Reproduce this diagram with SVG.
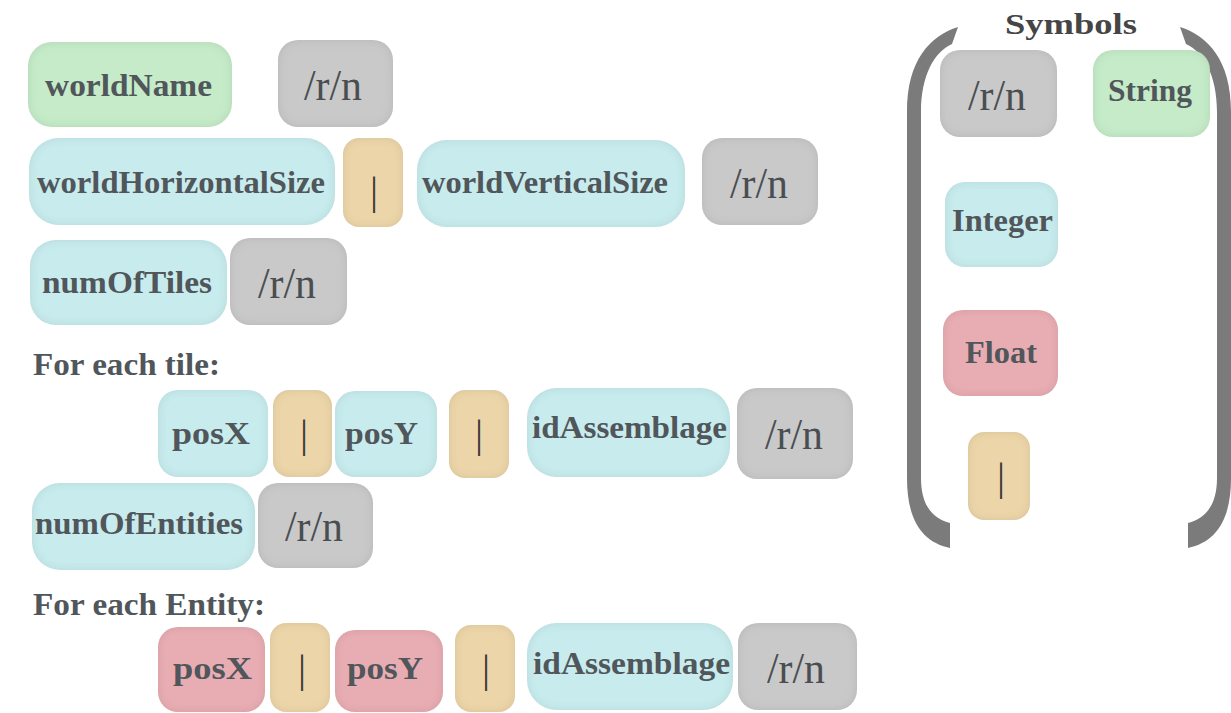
<svg xmlns="http://www.w3.org/2000/svg" width="1231" height="713" viewBox="0 0 1231 713">
  <defs>
    <!-- soft inner shading along the edges of every token box -->
    <filter id="inset" x="-5%" y="-5%" width="110%" height="110%">
      <feGaussianBlur in="SourceAlpha" stdDeviation="5" result="blur"/>
      <feComposite in="SourceAlpha" in2="blur" operator="out" result="rim"/>
      <feFlood flood-color="#000000" flood-opacity="0.2"/>
      <feComposite in2="rim" operator="in" result="shade"/>
      <feMerge>
        <feMergeNode in="SourceGraphic"/>
        <feMergeNode in="shade"/>
      </feMerge>
    </filter>
    <style>
      .box { filter: url(#inset); }
      .nl  { fill: #c9c9c9; }
      .str { fill: #c5ebc8; }
      .int { fill: #c8ecee; }
      .flt { fill: #e8adb3; }
      .sep { fill: #ecd5a9; }
      .lbl { font-family: "Liberation Serif", "Times New Roman", serif; font-size: 32px; font-weight: bold; fill: #50565a; }
      .crlf { font-family: "Liberation Serif", "Times New Roman", serif; font-size: 44px; fill: #4a4e51; text-anchor: middle; }
      .bar { font-family: "Liberation Serif", "Times New Roman", serif; font-size: 40px; fill: #3a3a3a; text-anchor: middle; }
      .bracket { fill: #7b7b7b; }
    </style>
  </defs>

  <rect width="1231" height="713" fill="#ffffff"/>

  <!-- line 1: world name -->
  <g id="worldName">
    <rect class="box str" x="28" y="42" width="204" height="85" rx="24"/>
    <text class="lbl" x="45" y="96" textLength="167" lengthAdjust="spacingAndGlyphs">worldName</text>
  </g>
  <g id="nl1">
    <rect class="box nl" x="278" y="40" width="115" height="87" rx="20"/>
    <text class="crlf" x="333" y="100" textLength="58" lengthAdjust="spacingAndGlyphs">/r/n</text>
  </g>

  <!-- line 2: world size -->
  <g id="worldHorizontalSize">
    <rect class="box int" x="29" y="138" width="306" height="87" rx="30"/>
    <text class="lbl" x="37" y="193" textLength="288" lengthAdjust="spacingAndGlyphs">worldHorizontalSize</text>
  </g>
  <g id="sep1">
    <rect class="box sep" x="343" y="138" width="60" height="89" rx="16"/>
    <text class="bar" x="374" y="204">|</text>
  </g>
  <g id="worldVerticalSize">
    <rect class="box int" x="417" y="140" width="268" height="87" rx="30"/>
    <text class="lbl" x="422" y="193" textLength="246" lengthAdjust="spacingAndGlyphs">worldVerticalSize</text>
  </g>
  <g id="nl2">
    <rect class="box nl" x="702" y="138" width="116" height="87" rx="20"/>
    <text class="crlf" x="759" y="198" textLength="58" lengthAdjust="spacingAndGlyphs">/r/n</text>
  </g>

  <!-- line 3: tile count -->
  <g id="numOfTiles">
    <rect class="box int" x="30" y="240" width="197" height="85" rx="26"/>
    <text class="lbl" x="42" y="293" textLength="170" lengthAdjust="spacingAndGlyphs">numOfTiles</text>
  </g>
  <g id="nl3">
    <rect class="box nl" x="230" y="238" width="117" height="87" rx="20"/>
    <text class="crlf" x="287" y="298" textLength="58" lengthAdjust="spacingAndGlyphs">/r/n</text>
  </g>

  <text id="tileHeading" class="lbl" x="33" y="375" textLength="187" lengthAdjust="spacingAndGlyphs">For each tile:</text>

  <!-- per tile record -->
  <g id="tilePosX">
    <rect class="box int" x="158" y="390" width="110" height="87" rx="20"/>
    <text class="lbl" x="172" y="444" textLength="78" lengthAdjust="spacingAndGlyphs">posX</text>
  </g>
  <g id="sep2">
    <rect class="box sep" x="273" y="390" width="59" height="87" rx="16"/>
    <text class="bar" x="304" y="447">|</text>
  </g>
  <g id="tilePosY">
    <rect class="box int" x="335" y="391" width="102" height="86" rx="20"/>
    <text class="lbl" x="345" y="444" textLength="73" lengthAdjust="spacingAndGlyphs">posY</text>
  </g>
  <g id="sep3">
    <rect class="box sep" x="449" y="390" width="60" height="88" rx="16"/>
    <text class="bar" x="479" y="447">|</text>
  </g>
  <g id="tileIdAssemblage">
    <rect class="box int" x="527" y="388" width="203" height="89" rx="30"/>
    <text class="lbl" x="532" y="438" textLength="195" lengthAdjust="spacingAndGlyphs">idAssemblage</text>
  </g>
  <g id="nl4">
    <rect class="box nl" x="737" y="388" width="116" height="91" rx="20"/>
    <text class="crlf" x="794" y="449" textLength="58" lengthAdjust="spacingAndGlyphs">/r/n</text>
  </g>

  <!-- entity count -->
  <g id="numOfEntities">
    <rect class="box int" x="32" y="483" width="223" height="87" rx="28"/>
    <text class="lbl" x="35" y="534" textLength="208" lengthAdjust="spacingAndGlyphs">numOfEntities</text>
  </g>
  <g id="nl5">
    <rect class="box nl" x="258" y="483" width="115" height="85" rx="20"/>
    <text class="crlf" x="314" y="541" textLength="58" lengthAdjust="spacingAndGlyphs">/r/n</text>
  </g>

  <text id="entityHeading" class="lbl" x="33" y="615" textLength="232" lengthAdjust="spacingAndGlyphs">For each Entity:</text>

  <!-- per entity record -->
  <g id="entityPosX">
    <rect class="box flt" x="158" y="627" width="107" height="85" rx="20"/>
    <text class="lbl" x="173" y="679" textLength="79" lengthAdjust="spacingAndGlyphs">posX</text>
  </g>
  <g id="sep4">
    <rect class="box sep" x="270" y="623" width="60" height="89" rx="16"/>
    <text class="bar" x="302" y="682">|</text>
  </g>
  <g id="entityPosY">
    <rect class="box flt" x="335" y="630" width="108" height="82" rx="20"/>
    <text class="lbl" x="347" y="679" textLength="76" lengthAdjust="spacingAndGlyphs">posY</text>
  </g>
  <g id="sep5">
    <rect class="box sep" x="455" y="625" width="60" height="87" rx="16"/>
    <text class="bar" x="486" y="682">|</text>
  </g>
  <g id="entityIdAssemblage">
    <rect class="box int" x="527" y="623" width="206" height="87" rx="30"/>
    <text class="lbl" x="533" y="674" textLength="197" lengthAdjust="spacingAndGlyphs">idAssemblage</text>
  </g>
  <g id="nl6">
    <rect class="box nl" x="738" y="623" width="119" height="87" rx="20"/>
    <text class="crlf" x="796" y="683" textLength="58" lengthAdjust="spacingAndGlyphs">/r/n</text>
  </g>

  <!-- legend -->
  <g id="legend">
    <text class="lbl" x="1005" y="34" textLength="132" lengthAdjust="spacingAndGlyphs" style="font-size:29px;fill:#454545">Symbols</text>
    <path id="bracketLeft" class="bracket" d="M958,27 C930,36 907,60 907,112 L907,478 C907,520 922,542 950,548 L950,523 C932,518 921,505 921,478 L921,112 C921,76 934,52 952,44 Z"/>
    <use href="#bracketLeft" transform="translate(2138,0) scale(-1,1)"/>
  </g>
  <g id="keyNewline">
    <rect class="box nl" x="940" y="50" width="117" height="87" rx="20"/>
    <text class="crlf" x="997" y="110" textLength="58" lengthAdjust="spacingAndGlyphs">/r/n</text>
  </g>
  <g id="keyString">
    <rect class="box str" x="1093" y="50" width="117" height="87" rx="20"/>
    <text class="lbl" x="1108" y="101" textLength="84" lengthAdjust="spacingAndGlyphs">String</text>
  </g>
  <g id="keyInteger">
    <rect class="box int" x="945" y="182" width="113" height="85" rx="20"/>
    <text class="lbl" x="952" y="231" textLength="101" lengthAdjust="spacingAndGlyphs">Integer</text>
  </g>
  <g id="keyFloat">
    <rect class="box flt" x="943" y="310" width="115" height="86" rx="20"/>
    <text class="lbl" x="965" y="363" textLength="72" lengthAdjust="spacingAndGlyphs">Float</text>
  </g>
  <g id="keySeparator">
    <rect class="box sep" x="968" y="432" width="62" height="88" rx="16"/>
    <text class="bar" x="1001" y="490">|</text>
  </g>
</svg>
